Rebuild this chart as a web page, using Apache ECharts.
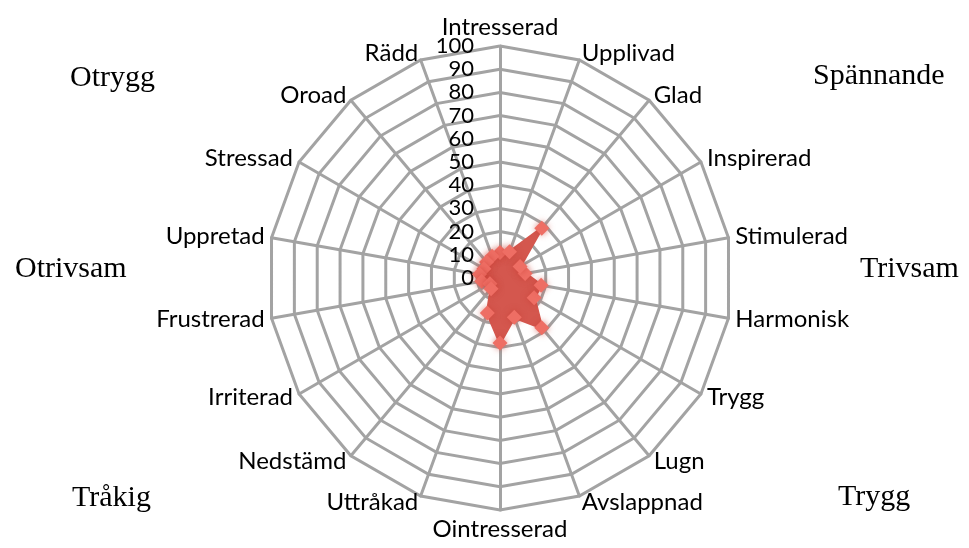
<!DOCTYPE html>
<html>
<head>
<meta charset="utf-8">
<script src="https://cdn.jsdelivr.net/npm/echarts@6/dist/echarts.min.js"></script>
<style>
html,body{margin:0;padding:0;background:#fff;}
#chart{width:969px;height:548px;}
</style>
</head>
<body>
<div id="chart"></div>
<script>
// Categories in clockwise order starting at top
var categories = ['Intresserad','Upplivad','Glad','Inspirerad','Stimulerad','Harmonisk','Trygg','Lugn','Avslappnad','Ointresserad','Uttråkad','Nedstämd','Irriterad','Frustrerad','Uppretad','Stressad','Oroad','Rädd'];
var values = [11, 12, 28, 10, 11, 18, 17, 28, 18, 28, 16, 6, 5, 8, 9, 8, 9, 10];
var tickMax = 100;
var tickStep = 10;
var cornerLabels = ['Otrygg','Spännande','Otrivsam','Trivsam','Tråkig','Trygg'];

// ECharts radar lays indicators out counter-clockwise; reorder so they run clockwise
var order = [0];
for (var i = categories.length - 1; i >= 1; i--) order.push(i);
var indicator = order.map(function(k){ return {name: categories[k], max: tickMax, min: 0}; });
var orderedValues = order.map(function(k){ return values[k]; });

var chart = echarts.init(document.getElementById('chart'));
var gridColor = '#a3a3a3';
var center = [500, 278];
var radius = 232;

var option = {
  backgroundColor: '#ffffff',
  animation: false,
  radar: {
    center: center,
    radius: radius,
    startAngle: 90,
    shape: 'polygon',
    splitNumber: tickMax / tickStep,
    indicator: indicator,
    axisName: { color: '#000', fontFamily: 'Lato', fontSize: 24 },
    nameGap: 7,
    axisLine: { lineStyle: { color: gridColor, width: 3 } },
    splitLine: { lineStyle: { color: gridColor, width: 3 } },
    splitArea: { show: false },
    axisTick: { show: false },
    axisLabel: { show: false }
  },
  polar: { center: center, radius: radius },
  angleAxis: { show: false, startAngle: 90, min: 0, max: 360 },
  radiusAxis: {
    min: 0, max: tickMax, interval: tickStep,
    axisLine: { show: false }, axisTick: { show: false }, splitLine: { show: false },
    axisLabel: { inside: true, color: '#000', fontFamily: 'Lato', fontSize: 22, margin: 26, align: 'right' }
  },
  series: [{
    type: 'radar',
    symbol: 'diamond',
    symbolSize: 15,
    lineStyle: { color: '#d4574e', width: 3 },
    itemStyle: { color: '#ee6e64', shadowBlur: 6, shadowColor: 'rgba(200,60,50,0.6)' },
    areaStyle: { color: '#d4574e', opacity: 1 },
    data: [{ value: orderedValues }]
  }],
  graphic: [
    { type: 'text', left: 70, top: 63, style: { text: cornerLabels[0], font: '30px "Liberation Serif"', fill: '#000' } },
    { type: 'text', left: 813, top: 61, style: { text: cornerLabels[1], font: '30px "Liberation Serif"', fill: '#000' } },
    { type: 'text', left: 15, top: 254, style: { text: cornerLabels[2], font: '30px "Liberation Serif"', fill: '#000' } },
    { type: 'text', left: 860, top: 254, style: { text: cornerLabels[3], font: '30px "Liberation Serif"', fill: '#000' } },
    { type: 'text', left: 72, top: 483, style: { text: cornerLabels[4], font: '30px "Liberation Serif"', fill: '#000' } },
    { type: 'text', left: 838, top: 482, style: { text: cornerLabels[5], font: '30px "Liberation Serif"', fill: '#000' } }
  ]
};
chart.setOption(option);
</script>
</body>
</html>
